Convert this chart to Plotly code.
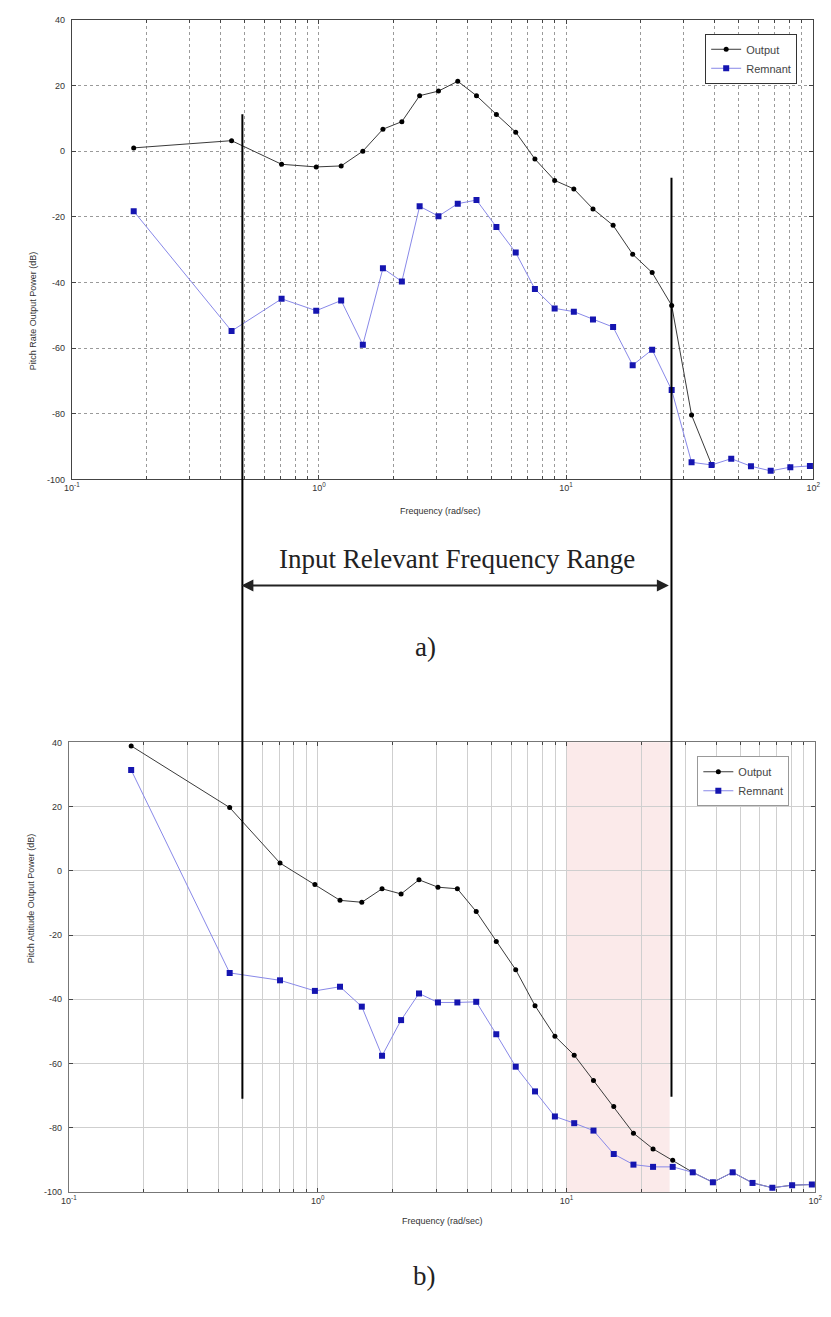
import plotly.graph_objects as go

# ---------------- data ----------------
freq = [0.178, 0.443, 0.706, 0.975, 1.23, 1.505, 1.815, 2.165, 2.555, 3.045,
        3.645, 4.34, 5.225, 6.255, 7.48, 8.99, 10.75, 12.85, 15.5, 18.6,
        22.3, 26.75, 32.2, 38.8, 46.6, 56.0, 67.3, 80.8, 97.0]

rate_output = [1.0, 3.2, -4.0, -4.8, -4.5, 0.0, 6.7, 9.0, 16.9, 18.3,
               21.3, 16.9, 11.2, 5.8, -2.4, -8.9, -11.5, -17.6, -22.6, -31.4,
               -37.0, -47.0, -80.4, -95.5]
rate_remnant = [-18.3, -54.8, -45.0, -48.6, -45.5, -59.0, -35.7, -39.7, -16.8, -19.8,
                -16.0, -14.9, -23.1, -30.9, -42.0, -47.9, -48.9, -51.3, -53.6, -65.2,
                -60.5, -72.8, -94.8, -95.6, -93.7, -96.0, -97.4, -96.3, -95.9]

att_output = [38.9, 19.7, 2.4, -4.3, -9.2, -9.8, -5.6, -7.2, -2.8, -5.1,
              -5.6, -12.7, -22.0, -30.8, -42.0, -51.5, -57.4, -65.3, -73.4, -81.7,
              -86.6, -90.1, -93.9, -97.0, -93.9, -97.2, -98.7, -97.9, -97.7]
att_remnant = [31.4, -31.8, -34.1, -37.4, -36.1, -42.3, -57.6, -46.5, -38.2, -41.0,
               -41.0, -40.8, -50.9, -61.0, -68.7, -76.5, -78.6, -80.9, -88.2, -91.5,
               -92.2, -92.2, -93.9, -97.0, -93.9, -97.2, -98.7, -97.9, -97.7]

series_names = ["Output", "Remnant"]
y_ticks = [-100, -80, -60, -40, -20, 0, 20, 40]
y_tick_labels = ["-100", "-80", "-60", "-40", "-20", "0", "20", "40"]
x_decades = [0.1, 1, 10, 100]
x_decade_labels = ["10<sup>-1</sup>", "10<sup>0</sup>", "10<sup>1</sup>", "10<sup>2</sup>"]
input_range = [0.49, 26.7]      # input relevant frequency range (rad/sec)
shaded_band = [10.0, 26.0]      # shaded band in b)

# ---------------- layout helpers ----------------
W, H = 831, 1317
def px(x):
    return x / W
def py(y):
    return 1 - y / H

# minor tick positions for log grid
x_minor = [m * 10 ** e for e in (-1, 0, 1) for m in range(2, 10)]

tick_font = dict(family="Liberation Sans, Arial", size=9, color="#333")
out_line = dict(color="#3a3a3a", width=1)
out_marker = dict(color="black", size=5, symbol="circle")
rem_line = dict(color="#8888e8", width=1)
rem_marker = dict(color="#1515b0", size=6, symbol="square")

fig = go.Figure()

# top chart
fig.add_trace(go.Scatter(x=freq[:len(rate_output)], y=rate_output, name=series_names[0],
                         mode="lines+markers", line=out_line, marker=out_marker,
                         xaxis="x", yaxis="y", legend="legend"))
fig.add_trace(go.Scatter(x=freq, y=rate_remnant, name=series_names[1],
                         mode="lines+markers", line=rem_line, marker=rem_marker,
                         xaxis="x", yaxis="y", legend="legend"))
# bottom chart
fig.add_trace(go.Scatter(x=freq, y=att_output, name=series_names[0],
                         mode="lines+markers", line=out_line, marker=out_marker,
                         xaxis="x2", yaxis="y2", legend="legend2"))
fig.add_trace(go.Scatter(x=freq, y=att_remnant, name=series_names[1],
                         mode="lines+markers", line=rem_line, marker=rem_marker,
                         xaxis="x2", yaxis="y2", legend="legend2"))

def xaxis_cfg(domain, anchor, dash, gridcolor, linecolor):
    return dict(type="log", range=[-1, 2], domain=domain, anchor=anchor,
                tickmode="array", tickvals=x_decades, ticktext=x_decade_labels,
                showgrid=True, gridcolor=gridcolor, griddash=dash, gridwidth=1,
                ticks="inside", ticklen=4, tickcolor="#444",
                minor=dict(tickmode="array", tickvals=x_minor, showgrid=True,
                           gridcolor=gridcolor, griddash=dash, gridwidth=1,
                           ticks="inside", ticklen=3, tickcolor="#444"),
                showline=True, linecolor=linecolor, linewidth=1, mirror="allticks",
                tickfont=tick_font, zeroline=False)

def yaxis_cfg(domain, anchor, dash, gridcolor, linecolor):
    return dict(range=[-100, 40], domain=domain, anchor=anchor,
                tickmode="array", tickvals=y_ticks, ticktext=y_tick_labels,
                showgrid=True, gridcolor=gridcolor, griddash=dash, gridwidth=1,
                ticks="inside", ticklen=4, tickcolor="#444",
                showline=True, linecolor=linecolor, linewidth=1, mirror="allticks",
                tickfont=tick_font, zeroline=False, ticklabelstandoff=4)

top_x = [px(65), px(820)]
top_y = [py(478), py(15)]
bot_x = [px(62), px(822)]
bot_y = [py(1196), py(743)]

fig.update_layout(
    width=W, height=H, margin=dict(l=0, r=0, t=0, b=0),
    paper_bgcolor="white", plot_bgcolor="white",
    xaxis=xaxis_cfg(top_x, "y", "dot", "#9a9a9a", "#444"),
    yaxis=yaxis_cfg(top_y, "x", "dot", "#9a9a9a", "#444"),
    xaxis2=xaxis_cfg(bot_x, "y2", "solid", "#cfcfcf", "#777"),
    yaxis2=yaxis_cfg(bot_y, "x2", "solid", "#cfcfcf", "#777"),
    legend=dict(x=px(710), y=py(29), xanchor="left", yanchor="top",
                bgcolor="white", bordercolor="#333", borderwidth=1,
                font=dict(family="Liberation Sans, Arial", size=11, color="#444"),
                itemwidth=30, tracegroupgap=0),
    legend2=dict(x=px(702), y=py(757), xanchor="left", yanchor="top",
                 bgcolor="white", bordercolor="#999", borderwidth=1,
                 font=dict(family="Liberation Sans, Arial", size=11, color="#444"),
                 itemwidth=30, tracegroupgap=0),
    showlegend=True,
)

shapes = []
# shaded band in b)
shapes.append(dict(type="rect", xref="x2", yref="y2 domain",
                   x0=shaded_band[0], x1=shaded_band[1], y0=0, y1=1,
                   fillcolor="#fbeaea", line=dict(width=0), layer="below"))
# vertical black lines spanning both charts
shapes.append(dict(type="line", xref="x", yref="paper",
                   x0=input_range[0], x1=input_range[0], y0=py(1102), y1=py(110),
                   line=dict(color="black", width=2)))
shapes.append(dict(type="line", xref="x", yref="paper",
                   x0=input_range[1], x1=input_range[1], y0=py(1100), y1=py(174),
                   line=dict(color="black", width=2)))
fig.update_layout(shapes=shapes)

label_font = dict(family="Liberation Sans, Arial", size=9, color="#333")
serif = dict(family="Liberation Serif, Times New Roman", size=27, color="#222")
annotations = [
    dict(text="Frequency (rad/sec)", xref="paper", yref="paper",
         x=px(440), y=py(510), showarrow=False, font=label_font),
    dict(text="Pitch Rate Output Power (dB)", xref="paper", yref="paper",
         x=px(18), y=py(246), showarrow=False, textangle=-90, font=label_font),
    dict(text="Frequency (rad/sec)", xref="paper", yref="paper",
         x=px(442), y=py(1232), showarrow=False, font=label_font),
    dict(text="Pitch Attitude Output Power (dB)", xref="paper", yref="paper",
         x=px(16), y=py(968), showarrow=False, textangle=-90, font=label_font),
    dict(text="Input Relevant Frequency Range", xref="paper", yref="paper",
         x=px(457), y=py(558), showarrow=False, font=serif),
    dict(text="a)", xref="paper", yref="paper",
         x=px(425), y=py(647), showarrow=False, font=serif),
    dict(text="b)", xref="paper", yref="paper",
         x=px(424), y=py(1298), showarrow=False, font=serif),
    # double-headed arrow
    dict(text="", xref="paper", yref="paper", x=px(673), y=py(585),
         ax=-(673 - 244), ay=0, axref="pixel", ayref="pixel",
         showarrow=True, arrowhead=2, arrowside="end+start",
         arrowsize=1.2, arrowwidth=2, arrowcolor="#222"),
]
fig.update_layout(annotations=annotations)

fig.write_html("out.html")
